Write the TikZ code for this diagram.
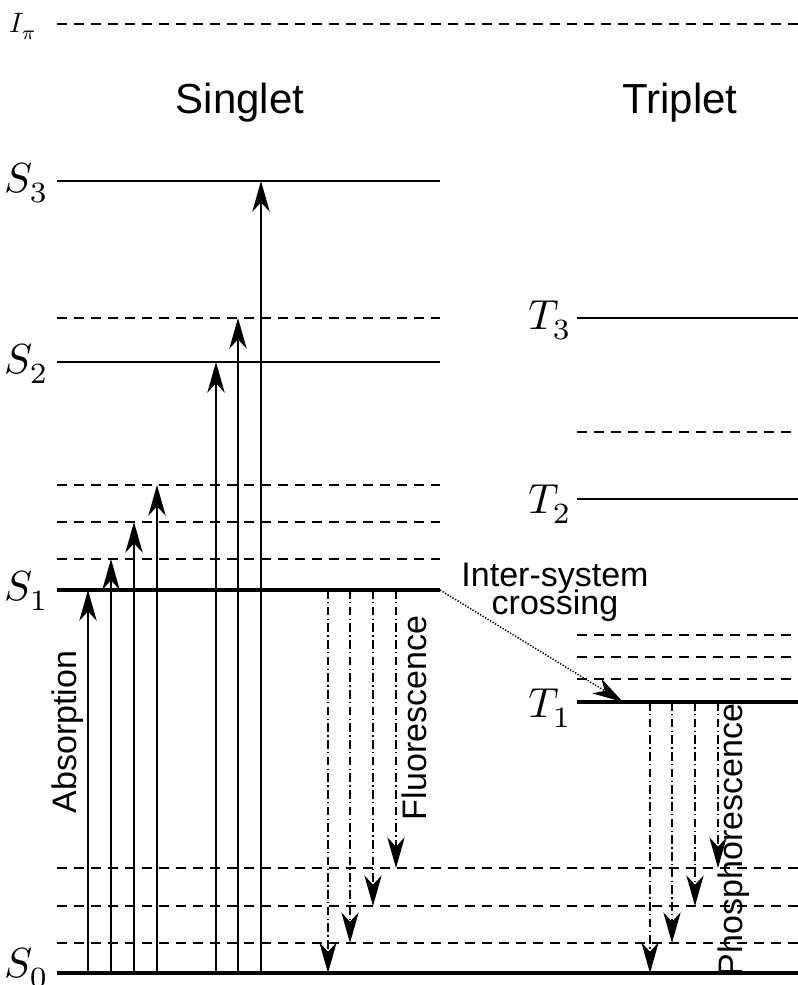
\documentclass[tikz,border=0pt]{standalone}
\usepackage{graphicx}
\usepackage{fontspec}
\newfontfamily\labelfont{Liberation Sans}
\usetikzlibrary{arrows.meta}
% energy-level label: letter with a dropped subscript, scaled up
\newcommand{\statelabel}[3][3.15]{\scalebox{#1}{$#2_{\lower1.1pt\hbox{$\scriptstyle #3$}}$}}
\begin{document}
\begin{tikzpicture}[x=0.75pt,y=-0.75pt,
  level/.style={line width=1.5pt},
  ground/.style={line width=3pt},
  vib/.style={line width=1.4pt,dash pattern=on 7.5pt off 5.25pt},
  tip/.style={-{Stealth[length=23pt,width=13pt,inset=7pt]}},
  absorb/.style={tip,line width=1.4pt},
  emit/.style={tip,line width=1.1pt,dash pattern=on 6.5pt off 2.4pt on 1.2pt off 2.4pt},
  isc/.style={tip,line width=1.1pt,dash pattern=on 1pt off 1.2pt},
  mlabel/.style={anchor=base east,inner sep=0pt},
  word/.style={font=\labelfont\fontsize{25.5}{25}\selectfont,inner sep=0pt},
  title/.style={font=\labelfont\fontsize{31.5}{32}\selectfont,inner sep=0pt}]
\useasboundingbox (0,0) rectangle (798,985);

% ionisation limit
\draw[vib] (57,24) -- (798,24);
\node[mlabel] (ipi) at (37,32) {\statelabel[2.1]{I}{\pi}};

% headings
\node[title] (singlet) at (240,103) {Singlet};
\node[title] (triplet) at (680,103) {Triplet};

% singlet manifold
\draw[level] (57,181) -- (440,181);
\draw[vib]   (57,318) -- (440,318);
\draw[level] (57,362) -- (440,362);
\foreach \y in {485,522,559} \draw[vib] (57,\y) -- (440,\y);
\draw[ground] (57,590) -- (440,590);
\foreach \y in {868,906,943} \draw[vib] (57,\y) -- (798,\y);
\draw[ground] (57,973) -- (798,973);

\node[mlabel] (s3) at (49,192) {\statelabel{S}{3}};
\node[mlabel] (s2) at (49,373) {\statelabel{S}{2}};
\node[mlabel] (s1) at (49,600) {\statelabel{S}{1}};
\node[mlabel] (s0) at (49,977) {\statelabel{S}{0}};

% triplet manifold
\draw[level] (577,318) -- (798,318);
\draw[vib]   (577,432) -- (798,432);
\draw[level] (577,499) -- (798,499);
\foreach \y in {635,657,679} \draw[vib] (577,\y) -- (798,\y);
\draw[ground] (577,702) -- (798,702);

\node[mlabel] (t3) at (572,329) {\statelabel{T}{3}};
\node[mlabel] (t2) at (572,513) {\statelabel{T}{2}};
\node[mlabel] (t1) at (572,717) {\statelabel{T}{1}};

% absorption
\foreach \x/\y [count=\i] in {88/590,111/559,134/522,157/485,216/362,238/318,261/181}{
  \coordinate (ab\i) at (\x,973);
  \coordinate (ae\i) at (\x,\y);
  \draw[absorb] (ab\i) -- (ae\i);
}
\node[word,rotate=90] (absorption) at (68,732) {Absorption};

% fluorescence
\foreach \x/\y [count=\i] in {328/973,350/943,373/906,396/868}{
  \coordinate (fb\i) at (\x,590);
  \coordinate (fe\i) at (\x,\y);
  \draw[emit] (fb\i) -- (fe\i);
}
\node[word,rotate=90] (fluorescence) at (414,718) {Fluorescence};

% phosphorescence
\foreach \x/\y [count=\i] in {650/973,672/943,695/906,718/868}{
  \coordinate (pb\i) at (\x,702);
  \coordinate (pe\i) at (\x,\y);
  \draw[emit] (pb\i) -- (pe\i);
}
\node[word,rotate=90] (phosphorescence) at (734,840) {Phosphorescence};

% inter-system crossing
\coordinate (iscA) at (440,590);
\coordinate (iscB) at (623,702);
\draw[isc] (iscA) -- (iscB);
\node[word,align=center] (isclabel) at (555,592) {Inter-system\\[-4pt]crossing};
\end{tikzpicture}
\end{document}
